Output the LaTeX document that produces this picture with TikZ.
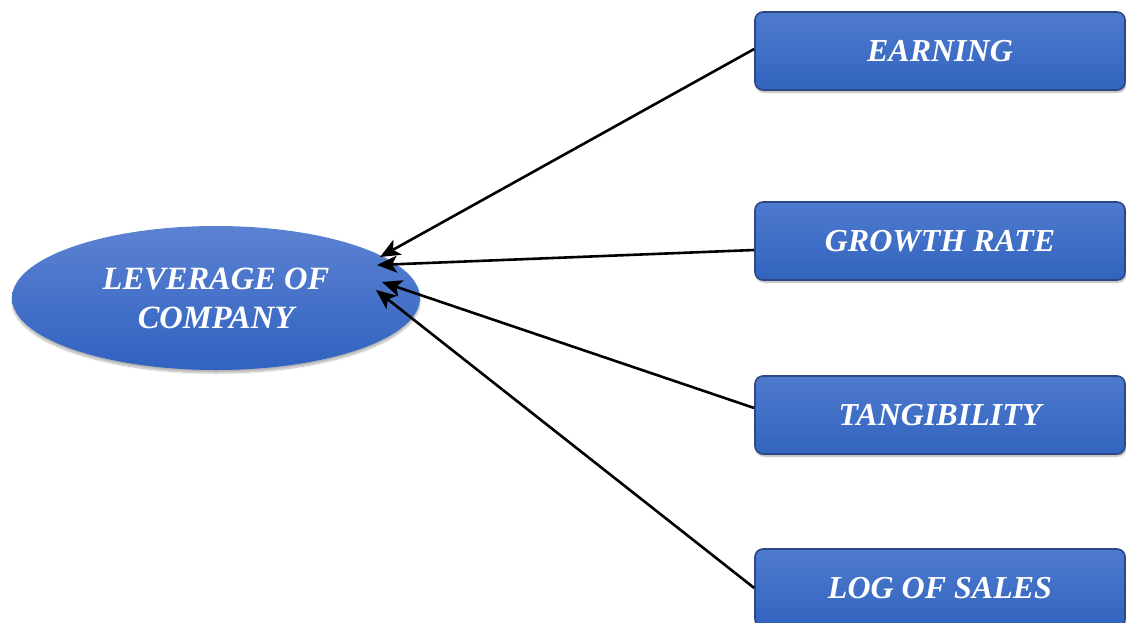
\documentclass[tikz,border=0pt]{standalone}
\usepackage{fontspec}
\setmainfont{Liberation Serif}
\usetikzlibrary{shapes.geometric,shadows.blur,arrows.meta,calc}
\definecolor{elltop}{RGB}{92,130,210}
\definecolor{ellbot}{RGB}{48,98,192}
\definecolor{boxtop}{RGB}{78,122,206}
\definecolor{boxbot}{RGB}{50,100,190}
\definecolor{boxedge}{RGB}{44,72,132}
\begin{document}
\begin{tikzpicture}[x=1pt,y=-1pt,
  factor/.style={rectangle, rounded corners=8pt, minimum width=370pt, minimum height=78pt,
    top color=boxtop, bottom color=boxbot, draw=boxedge, line width=1.6pt,
    blur shadow={shadow xshift=1pt, shadow yshift=-2pt, shadow blur steps=6, shadow opacity=35},
    font=\fontsize{32}{38}\selectfont\bfseries\itshape, text=white, inner sep=0pt},
  target/.style={ellipse, minimum width=408pt, minimum height=144pt, inner sep=0pt,
    top color=elltop, bottom color=ellbot,
    blur shadow={shadow xshift=0pt, shadow yshift=-3pt, shadow blur steps=10, shadow opacity=30},
    font=\fontsize{32.5}{39}\selectfont\bfseries\itshape, text=white, align=center},
  link/.style={-{Stealth[length=20pt,width=17pt,inset=5pt]}, line width=2.6pt, black}]
\useasboundingbox (0,0) rectangle (1126,623);
\node[target] (lev) at (216,298) {LEVERAGE OF\\COMPANY};
\node[factor] (earn) at (940,51) {EARNING};
\node[factor] (grow) at (940,241) {GROWTH RATE};
\node[factor] (tang) at (940,415) {TANGIBILITY};
\node[factor] (logs) at (940,588) {LOG OF SALES};
\coordinate (t1) at (380,257);
\coordinate (t2) at (377,265);
\coordinate (t3) at (382,282);
\coordinate (t4) at (376,290);
\draw[link] ($(earn.west)+(0,-2)$) -- (t1);
\draw[link] ($(grow.west)+(0,9)$) -- (t2);
\draw[link] ($(tang.west)+(0,-7)$) -- (t3);
\draw[link] (logs.west) -- (t4);
\end{tikzpicture}
\end{document}
